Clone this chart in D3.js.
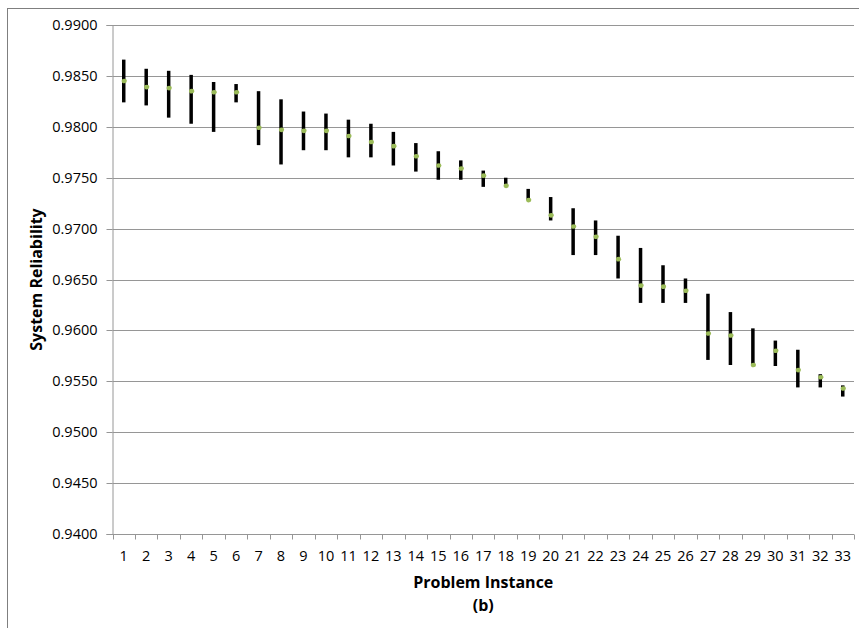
<!DOCTYPE html>
<html>
<head>
<meta charset="utf-8">
<script src="https://cdn.jsdelivr.net/npm/d3@7"></script>
<style>
  html, body { margin: 0; padding: 0; background: #fff; }
  svg { display: block; }
  text { font-family: "Open Sans", "Liberation Sans", sans-serif; fill: #000; }
</style>
</head>
<body>
<svg id="chart" width="859" height="628"></svg>
<script>
// Problem instances 1..33
const instances = d3.range(1, 34).map(String);

// Upper end of each reliability range
const highValues = [
  0.9866, 0.9857, 0.9855, 0.9851, 0.9844, 0.9842, 0.9835, 0.9827, 0.9815, 0.9813, 0.9807,
  0.9803, 0.9795, 0.9784, 0.9776, 0.9767, 0.9757, 0.9750, 0.9739, 0.9731, 0.9720, 0.9708,
  0.9693, 0.9681, 0.9664, 0.9651, 0.9636, 0.9618, 0.9602, 0.9590, 0.9581, 0.9557, 0.9546
];

// Lower end of each reliability range
const lowValues = [
  0.9824, 0.9821, 0.9809, 0.9803, 0.9795, 0.9824, 0.9782, 0.9763, 0.9777, 0.9777, 0.9770,
  0.9770, 0.9762, 0.9756, 0.9748, 0.9748, 0.9741, 0.9741, 0.9728, 0.9708, 0.9674, 0.9674,
  0.9651, 0.9627, 0.9627, 0.9627, 0.9571, 0.9566, 0.9566, 0.9565, 0.9544, 0.9544, 0.9535
];

// Representative (marker) value per instance
const markValues = [
  0.9845, 0.9839, 0.9838, 0.9835, 0.9834, 0.9834, 0.9799, 0.9797, 0.9796, 0.9796, 0.9791,
  0.9785, 0.9781, 0.9771, 0.9762, 0.9759, 0.9752, 0.9742, 0.9728, 0.9713, 0.9702, 0.9692,
  0.9670, 0.9644, 0.9643, 0.9639, 0.9597, 0.9595, 0.9566, 0.9580, 0.9561, 0.9554, 0.9543
];

const yTicks = d3.range(0, 11).map(i => +(0.94 + i * 0.005).toFixed(4));

const svg = d3.select("#chart");
const plot = { left: 112.5, right: 854, top: 25, bottom: 534 };

const x = d3.scaleBand().domain(instances).range([plot.left, plot.right]).padding(0);
const y = d3.scaleLinear().domain([0.94, 0.99]).range([plot.bottom, plot.top]);

// outer chart border
svg.append("rect")
  .attr("x", 7.5).attr("y", 8.5)
  .attr("width", 900).attr("height", 700)
  .attr("fill", "none").attr("stroke", "#7f7f7f").attr("stroke-width", 1);

// horizontal gridlines
svg.append("g").selectAll("line")
  .data(yTicks.filter(d => d > 0.94))
  .join("line")
  .attr("x1", plot.left).attr("x2", plot.right)
  .attr("y1", d => Math.round(y(d)) + 0.5)
  .attr("y2", d => Math.round(y(d)) + 0.5)
  .attr("stroke", "#969696").attr("stroke-width", 1);

// y axis
const yAxis = svg.append("g")
  .attr("transform", `translate(${plot.left},0)`)
  .call(d3.axisLeft(y).tickValues(yTicks).tickFormat(d3.format(".4f")).tickSize(6).tickPadding(9));
yAxis.select(".domain").attr("stroke", "#969696");
yAxis.selectAll(".tick line").attr("stroke", "#969696");
yAxis.selectAll(".tick text").style("font-size", "14.5px").attr("fill", "#000");
yAxis.selectAll(".tick").attr("transform", d => `translate(0,${Math.round(y(d)) + 0.5})`);

// x axis: ticks on category boundaries, labels centered in each band
const xAxisG = svg.append("g").attr("transform", `translate(0,${Math.round(plot.bottom) + 0.5})`);
xAxisG.append("line")
  .attr("x1", plot.left).attr("x2", plot.right)
  .attr("stroke", "#969696");
const boundaries = instances.map(d => x(d)).concat([plot.right]);
xAxisG.selectAll("line.tk")
  .data(boundaries)
  .join("line").attr("class", "tk")
  .attr("x1", d => Math.round(d) + 0.5).attr("x2", d => Math.round(d) + 0.5)
  .attr("y1", 0).attr("y2", 5)
  .attr("stroke", "#969696");
xAxisG.selectAll("text")
  .data(instances)
  .join("text")
  .attr("x", d => x(d) + x.bandwidth() / 2)
  .attr("y", 26)
  .attr("text-anchor", "middle")
  .style("font-size", "14.5px")
  .text(d => d);

// range bars
const idx = d3.range(instances.length);
svg.append("g").selectAll("line")
  .data(idx)
  .join("line")
  .attr("x1", i => x(instances[i]) + x.bandwidth() / 2)
  .attr("x2", i => x(instances[i]) + x.bandwidth() / 2)
  .attr("y1", i => y(highValues[i]))
  .attr("y2", i => y(lowValues[i]))
  .attr("stroke", "#000").attr("stroke-width", 3.5);

// markers
svg.append("g").selectAll("ellipse")
  .data(idx)
  .join("ellipse")
  .attr("cx", i => x(instances[i]) + x.bandwidth() / 2 + 0.5)
  .attr("cy", i => y(markValues[i]))
  .attr("rx", 2.6).attr("ry", 2.3)
  .attr("fill", "#9bbb59");

// axis titles
svg.append("text")
  .attr("x", (plot.left + plot.right) / 2).attr("y", 588)
  .attr("text-anchor", "middle")
  .style("font-size", "16px").style("font-weight", "bold")
  .text("Problem Instance");
svg.append("text")
  .attr("x", (plot.left + plot.right) / 2).attr("y", 611)
  .attr("text-anchor", "middle")
  .style("font-size", "16px").style("font-weight", "bold")
  .text("(b)");
svg.append("text")
  .attr("transform", `translate(42,${(plot.top + plot.bottom) / 2}) rotate(-90)`)
  .attr("text-anchor", "middle")
  .style("font-size", "16px").style("font-weight", "bold")
  .text("System Reliability");
</script>
</body>
</html>
